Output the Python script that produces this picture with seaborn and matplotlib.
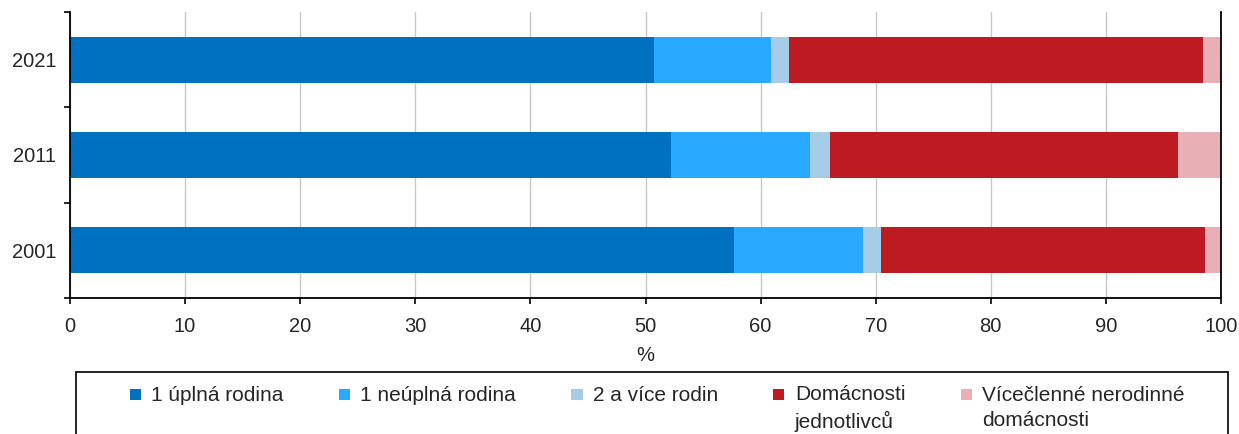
import numpy as np
import pandas as pd
import matplotlib
matplotlib.use("Agg")
import matplotlib.pyplot as plt
from matplotlib.patches import Patch, Rectangle
from matplotlib.legend_handler import HandlerBase
import seaborn as sns

# household structure by census year (% of households)
years = ["2021", "2011", "2001"]
uplna_rodina = [50.7, 52.2, 57.7]
neuplna_rodina = [10.2, 12.1, 11.2]
vice_rodin = [1.6, 1.7, 1.6]
jednotlivci = [35.9, 30.3, 28.1]
nerodinne = [1.6, 3.7, 1.4]

series_labels = [
    "1 úplná rodina",
    "1 neúplná rodina",
    "2 a více rodin",
    "Domácnosti\njednotlivců",
    "Vícečlenné nerodinné\ndomácnosti",
]
colors = ["#0070C0", "#29A9FF", "#A6CDE8", "#BE1A22", "#E8B0B4"]

W, H = 1239, 434
RAISE = 10.3  # pt, lift the square up to the first text line


class SquareHandler(HandlerBase):
    def create_artists(self, legend, orig_handle, xdescent, ydescent,
                       width, height, fontsize, trans):
        size = 8.0
        y0 = -ydescent + (height - size) / 2 + RAISE
        sq = Rectangle((-xdescent, y0), size, size,
                       facecolor=orig_handle.get_facecolor(),
                       edgecolor="none", transform=trans)
        return [sq]


def main():
    sns.set_style("white")
    plt.rcParams["font.family"] = ["Liberation Sans", "DejaVu Sans"]
    plt.rcParams["font.size"] = 14.5

    df = pd.DataFrame({
        "year": years,
        "s0": uplna_rodina,
        "s1": neuplna_rodina,
        "s2": vice_rodin,
        "s3": jednotlivci,
        "s4": nerodinne,
    })
    cols = ["s0", "s1", "s2", "s3", "s4"]
    cum = df[cols].cumsum(axis=1)
    cum["year"] = df["year"]

    fig = plt.figure(figsize=(W / 100, H / 100), dpi=100)
    ax = fig.add_axes([70 / W, 1 - 298 / H, (1221 - 70) / W, (298 - 12) / H])

    # stacked bars: draw cumulative totals from the longest down
    for col, c in zip(reversed(cols), reversed(colors)):
        sns.barplot(data=cum, x=col, y="year", order=years, orient="h",
                    color=c, saturation=1, width=0.48, errorbar=None, ax=ax,
                    linewidth=0)

    ax.set_xlim(0, 100)
    ax.set_ylim(2.5, -0.5)
    ax.set_xticks(np.arange(0, 101, 10))
    ax.set_ylabel("")
    ax.set_xlabel("%", fontsize=14.5, labelpad=7)

    ax.set_axisbelow(True)
    ax.grid(axis="x", color="#C8C8C8", linewidth=1)
    ax.grid(axis="y", visible=False)

    for side in ["left", "bottom", "right"]:
        ax.spines[side].set_visible(True)
        ax.spines[side].set_color("black")
        ax.spines[side].set_linewidth(1.3)
    ax.spines["top"].set_visible(False)

    ax.tick_params(axis="x", which="major", direction="out", length=4, width=1.2,
                   color="black", pad=10, labelsize=14.5, bottom=True)
    ax.tick_params(axis="y", which="major", length=0, pad=10, labelsize=14.5, left=True)
    ax.set_yticks([-0.5, 0.5, 1.5, 2.5], minor=True)
    ax.tick_params(axis="y", which="minor", direction="out", length=4, width=1.2,
                   color="black", left=True)

    # legend box (runs off the bottom edge like the original)
    frame = Rectangle((76 / W, -0.1), (1228 - 76) / W, 0.1 + 1 - 372 / H,
                      transform=fig.transFigure, fill=False,
                      edgecolor="black", linewidth=1.2)
    fig.add_artist(frame)

    # pad single-line labels to two lines so all squares sit on the first line
    labels = [s if "\n" in s else s + "\n " for s in series_labels]
    handles = [Patch(facecolor=c) for c in colors]
    leg = fig.legend(handles, labels, loc="upper left", ncol=5,
                     bbox_to_anchor=(130 / W, 1 - 385 / H),
                     frameon=False, fontsize=15,
                     handler_map={Patch: SquareHandler()},
                     handlelength=0.55, handletextpad=0.48, columnspacing=2.65,
                     borderpad=0, borderaxespad=0)
    for t in leg.get_texts():
        t.set_linespacing(1.38)

    fig.savefig("out.png", dpi=100)
    plt.close(fig)


if __name__ == "__main__":
    main()
